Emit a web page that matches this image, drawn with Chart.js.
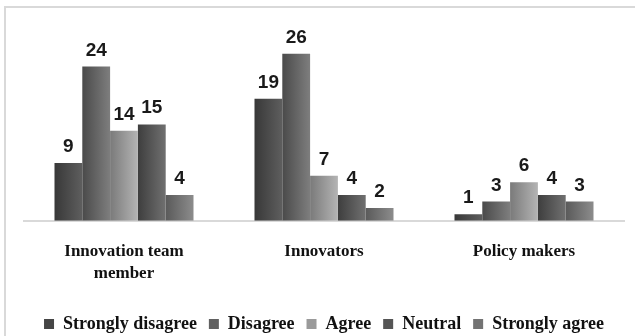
<!DOCTYPE html>
<html>
<head>
<meta charset="utf-8">
<script src="https://cdn.jsdelivr.net/npm/chart.js@4/dist/chart.umd.min.js"></script>
<style>
  html, body { margin: 0; padding: 0; background: #fff; }
  #wrap { position: relative; width: 635px; height: 336px; overflow: hidden; }
  #frame { position: absolute; left: 4px; top: 6px; width: 700px; height: 400px;
           border-left: 2px solid #d9d9d9; border-top: 2px solid #d9d9d9; box-sizing: border-box; }
  canvas { position: absolute; left: 0; top: 0; }
</style>
</head>
<body>
<div id="wrap">
  <div id="frame"></div>
  <canvas id="c" width="635" height="344"></canvas>
</div>
<script>
// Respondent groups and answer counts per Likert category
const categories = [['Innovation team', 'member'], 'Innovators', 'Policy makers'];
const seriesNames = ['Strongly disagree', 'Disagree', 'Agree', 'Neutral', 'Strongly agree'];
const stronglyDisagree = [9, 19, 1];
const disagree = [24, 26, 3];
const agree = [14, 7, 6];
const neutral = [15, 4, 4];
const stronglyAgree = [4, 2, 3];
const yMax = 30;

// Grey shading per series: left edge, right edge, legend swatch
const shadeFrom = ['#383838', '#4a4a4a', '#7a7a7a', '#3e3e3e', '#5a5a5a'];
const shadeTo   = ['#5e5e5e', '#7e7e7e', '#b4b4b4', '#707070', '#8c8c8c'];
const swatch    = ['#454545', '#606060', '#9a9a9a', '#555555', '#737373'];

const seriesValues = [stronglyDisagree, disagree, agree, neutral, stronglyAgree];

const datasets = seriesNames.map((name, i) => ({
  label: name,
  data: seriesValues[i],
  backgroundColor: (ctx) => swatch[i],
  borderWidth: 0,
  barPercentage: 1.0,
  categoryPercentage: 0.695
}));

// Horizontal gradient across each bar
const barShading = {
  id: 'barShading',
  beforeDatasetsDraw(chart) {
    const g = chart.ctx;
    chart.data.datasets.forEach((ds, i) => {
      chart.getDatasetMeta(i).data.forEach(el => {
        const left = el.x - el.width / 2, right = el.x + el.width / 2;
        const grad = g.createLinearGradient(left, 0, right, 0);
        grad.addColorStop(0, shadeFrom[i]);
        grad.addColorStop(1, shadeTo[i]);
        el.options.backgroundColor = grad;
      });
    });
  }
};

// Value above every bar
const valueLabels = {
  id: 'valueLabels',
  afterDatasetsDraw(chart) {
    const g = chart.ctx;
    g.save();
    g.font = 'bold 19px "Liberation Sans", Arial, sans-serif';
    g.fillStyle = '#1a1a1a';
    g.textAlign = 'center';
    g.textBaseline = 'alphabetic';
    chart.data.datasets.forEach((ds, i) => {
      chart.getDatasetMeta(i).data.forEach((el, j) => {
        g.fillText(String(ds.data[j]), el.x, el.y - 11);
      });
    });
    g.restore();
  }
};

new Chart(document.getElementById('c'), {
  type: 'bar',
  data: { labels: categories, datasets },
  options: {
    responsive: false,
    animation: false,
    layout: { padding: { left: 24, right: 11, top: 28, bottom: 1 } },
    plugins: {
      legend: {
        position: 'bottom',
        labels: {
          boxWidth: 10, boxHeight: 10, padding: 12,
          color: '#111',
          font: { family: '"Liberation Serif", "Times New Roman", serif', size: 18, weight: 'bold' }
        }
      },
      tooltip: { enabled: false }
    },
    scales: {
      x: {
        grid: { display: false },
        border: { display: true, color: '#d9d9d9', width: 2 },
        afterFit(scale) { scale.height += 6; },
        ticks: {
          color: '#111', padding: 12, maxRotation: 0, autoSkip: false,
          font: { family: '"Liberation Serif", "Times New Roman", serif', size: 17, weight: 'bold', lineHeight: 1.3 }
        }
      },
      y: {
        display: false,
        min: 0, max: yMax
      }
    }
  },
  plugins: [barShading, valueLabels]
});
</script>
</body>
</html>
